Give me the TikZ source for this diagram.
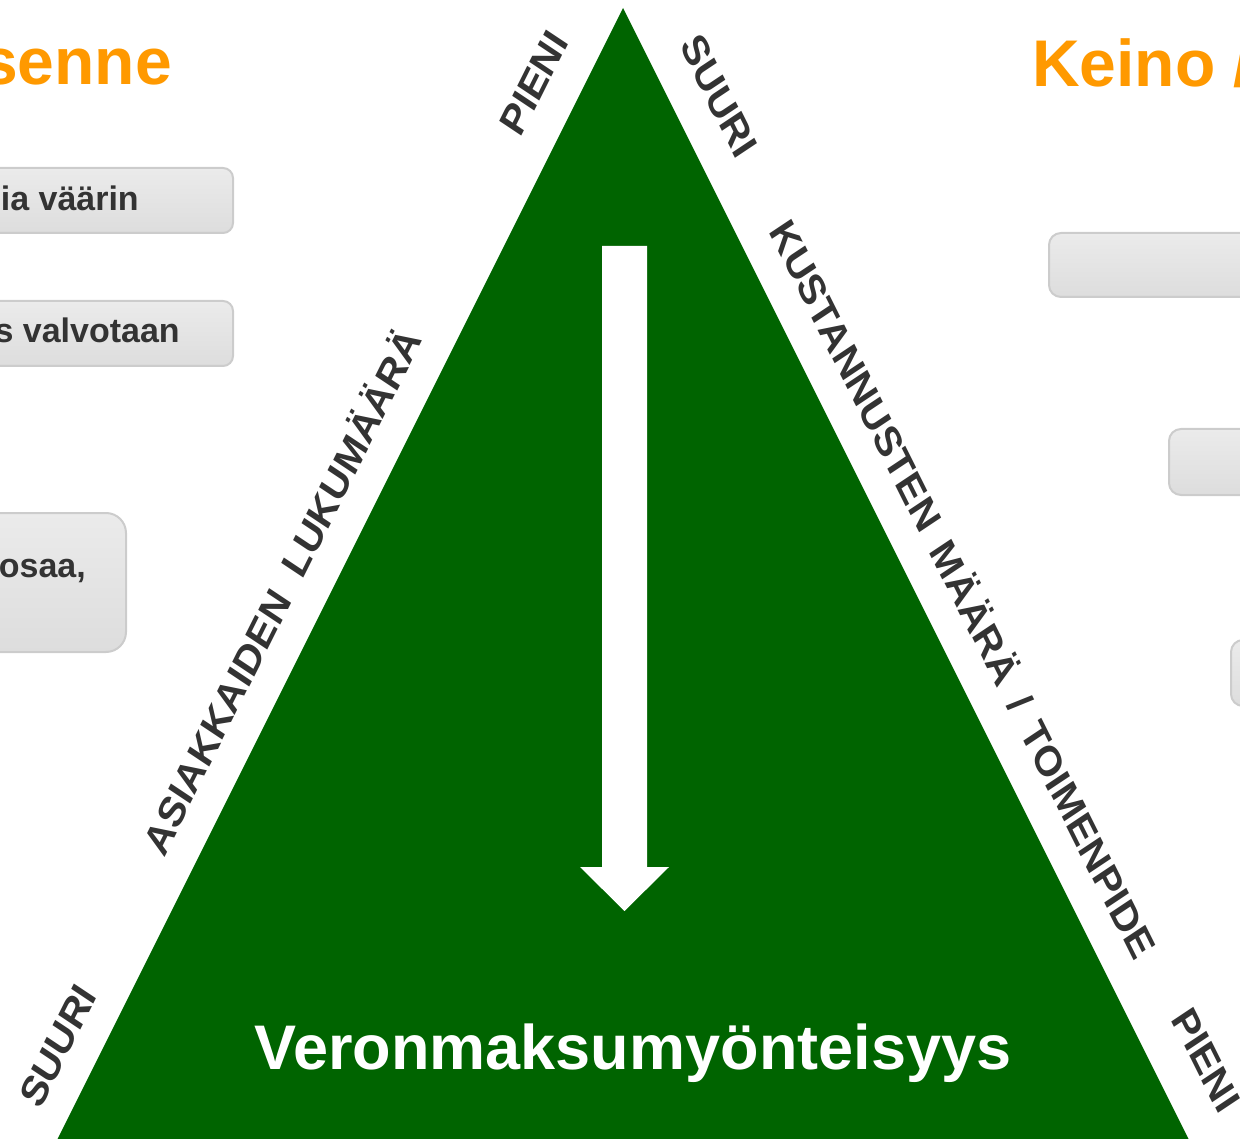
\documentclass[tikz,border=0pt]{standalone}
\usepackage{fontspec}
\setmainfont{Liberation Sans}
\definecolor{triangleGreen}{RGB}{0,100,0}
\definecolor{headOrange}{RGB}{255,153,0}
\definecolor{labelGray}{RGB}{51,51,51}
\definecolor{boxTop}{RGB}{235,235,235}
\definecolor{boxBottom}{RGB}{221,221,221}
\definecolor{boxLine}{RGB}{204,204,204}
\begin{document}
\begin{tikzpicture}[x=1pt,y=-1pt]

            \tikzstyle{edgeLabel} = [labelGray, inner sep=0pt, font=\fontsize{37}{44}\selectfont\bfseries];
            \tikzstyle{upLabel} = [edgeLabel, yscale=1.155, rotate=60];
            \tikzstyle{downLabel} = [edgeLabel, yscale=1.155, rotate=-60];
            \tikzstyle{headLabel} = [headOrange, inner sep=0pt, font=\fontsize{66}{78}\selectfont\bfseries];
            \tikzstyle{boxText} = [labelGray, inner sep=0pt, font=\fontsize{34}{40}\selectfont\bfseries];
            \tikzstyle{titleLabel} = [white, inner sep=0pt, font=\fontsize{63}{75}\selectfont\bfseries];
            \tikzstyle{grayBox} = [draw=boxLine, line width=2pt, top color=boxTop, bottom color=boxBottom, rounded corners=10pt, inner sep=0pt];

            \newcommand*\wideGap{\hspace{0.45em}}

            \useasboundingbox (0,0) rectangle (1240,1139);
            \clip (0,0) rectangle (1240,1139);

            % headings, cut by the page edge
            \node[headLabel, anchor=base east] (leftHead) at (172,85) {senne};
            \node[headLabel, anchor=base west] (rightHead) at (1032,87) {Keino /};

            % boxes on the left
            \node[grayBox, minimum width=433pt, minimum height=65pt] (boxA) at (16.5,200.5) {};
            \node[grayBox, minimum width=433pt, minimum height=65pt] (boxB) at (16.5,333.5) {};
            \node[grayBox, rounded corners=20pt, minimum width=426pt, minimum height=139pt] (boxC) at (-87,582.5) {};
            \node[boxText, anchor=base east] (textA) at (139,211) {ia väärin};
            \node[boxText, anchor=base east] (textB) at (180,343) {s valvotaan};
            \node[boxText, anchor=base east] (textC) at (86,577) {osaa,};

            % boxes on the right
            \node[grayBox, rounded corners=12pt, minimum width=400pt, minimum height=64pt] (boxD) at (1249,265) {};
            \node[grayBox, rounded corners=12pt, minimum width=400pt, minimum height=66pt] (boxE) at (1369,462) {};
            \node[grayBox, rounded corners=12pt, minimum width=400pt, minimum height=66pt] (boxF) at (1431,673) {};

            % triangle
            \coordinate (apex) at (623,8);
            \coordinate (leftCorner) at (56,1142);
            \coordinate (rightCorner) at (1190,1142);
            \fill[triangleGreen] (apex) -- (leftCorner) -- (rightCorner) -- cycle;

            % white arrow
            \fill[white] (602,246) -- (647,246) -- (647,867) -- (669,867)
              -- (624.5,911) -- (580,867) -- (602,867) -- cycle;

            \node[titleLabel, anchor=base] (title) at (633,1069) {Veronmaksumyönteisyys};

            % labels along the sides
            \node[upLabel] (leftLow) at (58,1046) {SUURI};
            \node[upLabel] (leftMid) at (280,590) {ASIAKKAIDEN\ \ LUKUMÄÄRÄ};
            \node[upLabel] (leftHigh) at (534,83) {PIENI};
            \node[downLabel] (rightHigh) at (719,96) {SUURI};
            \node[downLabel] (rightMid) at (965,588) {KUSTANNUSTEN\wideGap MÄÄRÄ\wideGap /\wideGap TOIMENPIDE};
            \node[downLabel] (rightLow) at (1206,1060) {PIENI};
          \end{tikzpicture}
\end{document}
